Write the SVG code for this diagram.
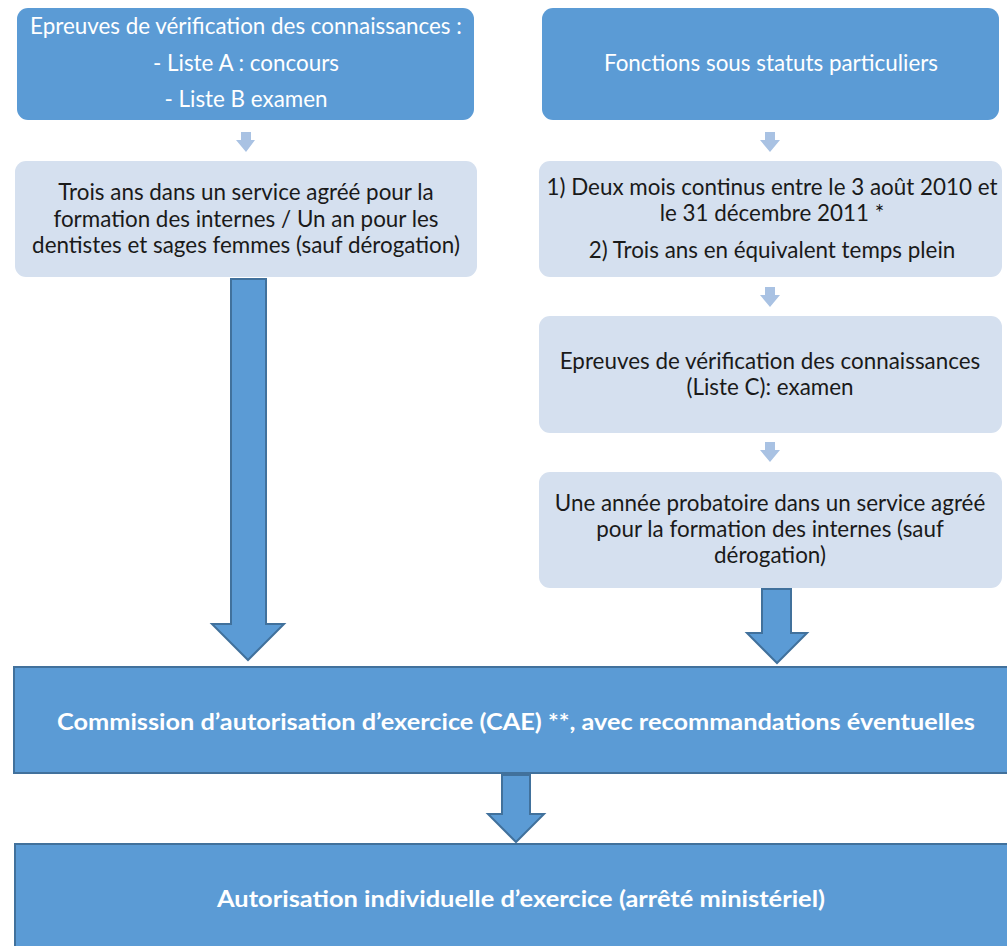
<svg xmlns="http://www.w3.org/2000/svg" width="1007" height="946" viewBox="0 0 1007 946">
<style>
.dark{fill:#5B9BD5;}
.light{fill:#D5E0EF;}
.big{fill:#5B9BD5;stroke:#41719C;stroke-width:2;}
.small{fill:#A9C2E3;}
text{font-family:Lato,"Open Sans","Liberation Sans",sans-serif;font-size:22.4px;text-anchor:middle;}
.w{fill:#FFFFFF;}
.k{fill:#1A1A1A;}
.b{font-weight:bold;font-size:23px;}
</style>
<rect x="0" y="0" width="1007" height="946" fill="#FFFFFF"/>
<g id="n1">
<rect class="dark" x="17" y="8" width="457" height="112" rx="11"/>
<text class="w" x="246" y="34">Epreuves de vérification des connaissances :</text>
<text class="w" x="246" y="71">- Liste A : concours</text>
<text class="w" x="246" y="107">- Liste B examen</text>
</g>
<g id="n2">
<rect class="light" x="15" y="161" width="462" height="116" rx="11"/>
<text class="k" x="246" y="200">Trois ans dans un service agréé pour la</text>
<text class="k" x="246" y="227">formation des internes / Un an pour les</text>
<text class="k" x="246" y="253">dentistes et sages femmes (sauf dérogation)</text>
</g>
<g id="n3">
<rect class="dark" x="542" y="8" width="457" height="112" rx="11"/>
<text class="w" x="771" y="71">Fonctions sous statuts particuliers</text>
</g>
<g id="n4">
<rect class="light" x="539" y="161" width="463" height="116" rx="11"/>
<text class="k" x="772" y="195">1) Deux mois continus entre le 3 août 2010 et</text>
<text class="k" x="772" y="221">le 31 décembre 2011 *</text>
<text class="k" x="772" y="258">2) Trois ans en équivalent temps plein</text>
</g>
<g id="n5">
<rect class="light" x="539" y="316" width="463" height="117" rx="11"/>
<text class="k" x="770" y="369">Epreuves de vérification des connaissances</text>
<text class="k" x="770" y="395">(Liste C): examen</text>
</g>
<g id="n6">
<rect class="light" x="539" y="472" width="463" height="116" rx="11"/>
<text class="k" x="770" y="511">Une année probatoire dans un service agréé</text>
<text class="k" x="770" y="537">pour la formation des internes (sauf</text>
<text class="k" x="770" y="563">dérogation)</text>
</g>
<g id="n7">
<rect class="big" x="14" y="667" width="1010" height="106"/>
<text class="w b" x="516" y="730" textLength="918" lengthAdjust="spacingAndGlyphs">Commission d’autorisation d’exercice (CAE) **, avec recommandations éventuelles</text>
</g>
<g id="n8">
<rect class="big" x="15" y="844" width="1010" height="120"/>
<text class="w b" x="521" y="907" textLength="608" lengthAdjust="spacingAndGlyphs">Autorisation individuelle d’exercice (arrêté ministériel)</text>
</g>
<g id="connectors">
<polygon class="small" points="241,132 251,132 251,140 255,140 246,152 236,140 241,140"/>
<polygon class="small" points="765,132 775,132 775,140 780,140 770,152 760,140 765,140"/>
<polygon class="small" points="765,287 775,287 775,295 780,295 770,307 760,295 765,295"/>
<polygon class="small" points="765,442 775,442 775,450 780,450 770,462 760,450 765,450"/>
<polygon class="big" points="231,279 266,279 266,624 284,624 248,660 212,624 231,624"/>
<polygon class="big" points="762,589 791,589 791,633 807,633 777,663 747,633 762,633"/>
<polygon class="big" points="502,775 530,775 530,814 544,814 516,842 488,814 502,814"/>
</g>
</svg>
